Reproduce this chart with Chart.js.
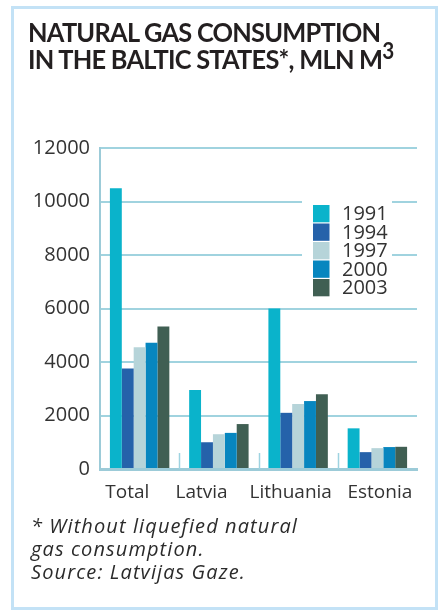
<!DOCTYPE html>
<html>
<head>
<meta charset="utf-8">
<script src="https://cdn.jsdelivr.net/npm/chart.js@4/dist/chart.umd.min.js"></script>
<style>
  html, body { margin: 0; padding: 0; background: #ffffff; }
  body { width: 440px; height: 613px; position: relative; overflow: hidden; }
  #frame { position: absolute; left: 11px; top: 6px; width: 421px; height: 598px; border: 3px solid #c3e2f6; }
  #title { position: absolute; left: 28px; top: 18px; font-family: Lato, "Open Sans", sans-serif; font-weight: 700; font-size: 27px; letter-spacing: -0.8px; line-height: 27px; color: #231f20; white-space: nowrap; transform: scaleX(0.94); transform-origin: 0 0; }
  #title .sup { font-size: 22px; position: relative; top: -10px; margin-left: 0; }
  #note { position: absolute; left: 31px; top: 514px; font-family: "Open Sans", sans-serif; font-style: italic; font-size: 20px; letter-spacing: 1.1px; line-height: 23px; color: #2b2b2b; white-space: nowrap; }
  #c { position: absolute; left: 0; top: 0; }
</style>
</head>
<body>
<div id="frame"></div>
<canvas id="c" width="440" height="613"></canvas>
<div id="title">NATURAL GAS CONSUMPTION<br>IN THE BALTIC STATES*, MLN M<span class="sup">3</span></div>
<div id="note">* Without liquefied natural<br>gas consumption.<br>Source: Latvijas Gaze.</div>
<script>
const categories = ['Total', 'Latvia', 'Lithuania', 'Estonia'];
const years = ['1991', '1994', '1997', '2000', '2003'];
const values1991 = [10500, 2950, 6000, 1520];
const values1994 = [3760, 1000, 2100, 630];
const values1997 = [4550, 1300, 2430, 780];
const values2000 = [4720, 1350, 2540, 820];
const values2003 = [5330, 1680, 2790, 830];
const yTickValues = [0, 2000, 4000, 6000, 8000, 10000, 12000];
const seriesColors = ['#0ab3cb', '#2562aa', '#b6d4d9', '#0786bf', '#405f53'];

const seriesValues = [values1991, values1994, values1997, values2000, values2003];
const datasets = years.map((y, i) => ({
  label: y,
  data: seriesValues[i],
  backgroundColor: seriesColors[i],
  borderWidth: 0,
  categoryPercentage: 0.75,
  barPercentage: 1.0
}));

const textColor = '#333333';
const gridColor = 'rgba(150,206,220,0.9)';
// label placement tweak (spaces before/after each category label, as in the original layout)
const labelPad = [[0, 5], [0, 7], [0, 3], [1, 0]];

const separators = {
  id: 'separators',
  afterDatasetsDraw(chart) {
    const xs = chart.scales.x, ctx = chart.ctx, area = chart.chartArea;
    ctx.save();
    ctx.strokeStyle = '#9ed3e0';
    ctx.lineWidth = 1.5;
    for (let i = 1; i < categories.length; i++) {
      const x = Math.round((xs.getPixelForValue(i - 1) + xs.getPixelForValue(i)) / 2) + 0.5;
      ctx.beginPath();
      ctx.moveTo(x, area.bottom - 16);
      ctx.lineTo(x, area.bottom);
      ctx.stroke();
    }
    ctx.restore();
  }
};

const boxLegend = {
  id: 'boxLegend',
  afterDraw(chart) {
    const ctx = chart.ctx, area = chart.chartArea;
    const left = area.right - 115, top = area.top + 42;
    ctx.save();
    ctx.fillStyle = '#ffffff';
    ctx.fillRect(left, top, 90, 112);
    const bx = left + 11, tx = left + 40;
    ctx.font = '20px "Open Sans"';
    ctx.textBaseline = 'middle';
    ctx.textAlign = 'left';
    chart.data.datasets.forEach((ds, i) => {
      const y = top + 15 + i * 18.5;
      ctx.fillStyle = ds.backgroundColor;
      ctx.fillRect(bx, y, 16.5, 17.3);
      ctx.fillStyle = textColor;
      ctx.fillText(ds.label, tx, y + 9.5);
    });
    ctx.restore();
  }
};

new Chart(document.getElementById('c'), {
  type: 'bar',
  data: { labels: categories, datasets },
  options: {
    responsive: false,
    devicePixelRatio: 1,
    animation: false,
    layout: { padding: { left: 0, top: 148, right: 23, bottom: 0 } },
    plugins: { legend: { display: false }, tooltip: { enabled: false }, title: { display: false } },
    scales: {
      x: {
        grid: { display: false, drawTicks: false },
        border: { display: true, color: '#9ccbd8', width: 3 },
        ticks: {
          color: textColor, font: { family: '"Open Sans"', size: 19 }, padding: 12, maxRotation: 0, autoSkip: false,
          callback: (v, i) => ' '.repeat(labelPad[i][0]) + categories[i] + ' '.repeat(labelPad[i][1])
        },
        afterFit(s) { s.height = 144; }
      },
      y: {
        min: 0, max: 12000,
        z: 1,
        afterBuildTicks(s) { s.ticks = yTickValues.map(v => ({ value: v })); },
        grid: { color: gridColor, lineWidth: 2, drawTicks: false },
        border: { display: true, color: '#9ccbd8', width: 2 },
        ticks: { color: textColor, font: { family: '"Open Sans"', size: 20 }, padding: 10, callback: v => String(v) },
        afterFit(s) { s.width = 100; }
      }
    }
  },
  plugins: [separators, boxLegend]
});
</script>
</body>
</html>
